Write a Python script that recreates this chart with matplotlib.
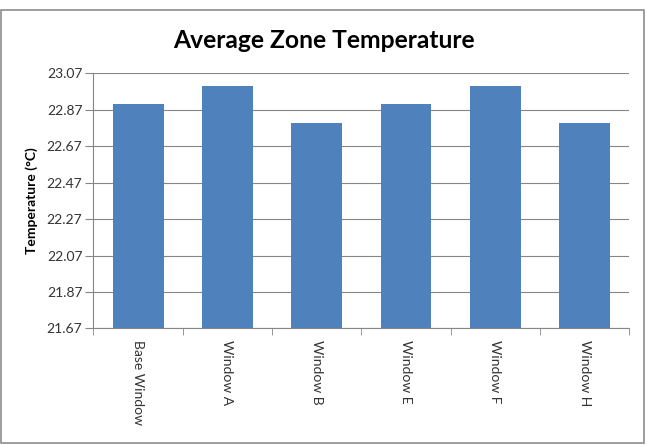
import matplotlib.pyplot as plt
from matplotlib.patches import Rectangle

categories = ['Base Window', 'Window A', 'Window B', 'Window E', 'Window F', 'Window H']
temperatures = [22.90, 23.00, 22.80, 22.90, 23.00, 22.80]
y_ticks = [21.67, 21.87, 22.07, 22.27, 22.47, 22.67, 22.87, 23.07]

plt.rcParams['font.family'] = ['Lato', 'DejaVu Sans']

fig = plt.figure(figsize=(6.47, 4.45), dpi=100)
fig.patches.append(Rectangle((0.002, 0.005), 0.994, 0.972, transform=fig.transFigure,
                             fill=False, edgecolor='#8c8c8c', linewidth=1.2))
ax = fig.add_axes([0.1445, 0.262, 0.828, 0.573])

x = range(len(categories))
ax.bar(x, [t - y_ticks[0] for t in temperatures], bottom=y_ticks[0], width=0.57,
       color='#4F81BD', zorder=3)

ax.set_ylim(y_ticks[0], y_ticks[-1])
ax.set_yticks(y_ticks)
ax.set_yticklabels([f'{t:.2f}' for t in y_ticks], fontsize=10, color='#333333')
ax.set_xlim(-0.5, len(categories) - 0.5)
ax.set_xticks(x)
ax.set_xticklabels(categories, rotation=-90, fontsize=10, color='#333333')
ax.tick_params(axis='x', length=0, pad=8)
ax.set_xticks([i + 0.5 for i in range(-1, len(categories))], minor=True)
ax.tick_params(axis='x', which='minor', length=5, color='#868686')
ax.tick_params(axis='y', length=6, pad=2, color='#868686')

ax.grid(axis='y', color='#868686', linewidth=0.8, zorder=0)
for side in ['top', 'right']:
    ax.spines[side].set_visible(False)
for side in ['left', 'bottom']:
    ax.spines[side].set_color('#868686')

ax.set_ylabel('Temperature (°C)', fontsize=10, fontweight='bold', labelpad=6)
fig.suptitle('Average Zone Temperature', fontsize=17.7, fontweight='bold', y=0.935)

fig.savefig('out.png')
